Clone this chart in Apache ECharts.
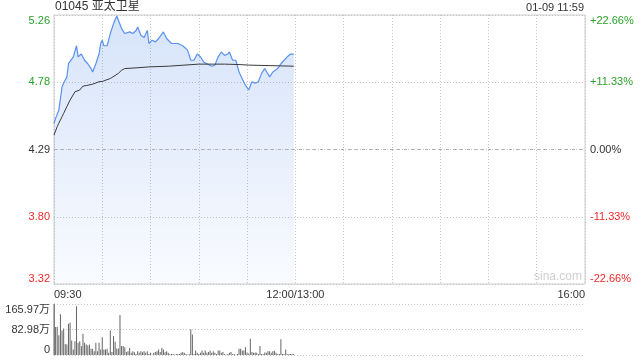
<!DOCTYPE html>
<html><head><meta charset="utf-8">
<script src="https://cdn.jsdelivr.net/npm/echarts@6/dist/echarts.min.js"></script>
<style>html,body{margin:0;padding:0;background:#fff}#c{width:640px;height:360px}</style>
</head><body><div id="c"></div>
<script>
const prevClose = 4.29;
const stepPct = 11.33;
const priceTimes = [0,1,3,5,6,8,9,10,12,14,15,17,19,21,23,24,26,28,29,30,31,33,35,37,39,40,42,44,47,49,51,52,54,56,58,59,61,63,65,68,70,73,77,80,83,85,87,89,91,93,95,98,100,102,104,106,108,109,111,113,115,117,119,121,123,125,127,129,131,134,136,139,141,143,145,147,149];
const prices = [4.479,4.515,4.575,4.743,4.77,4.815,4.91,4.90,4.96,5.04,4.96,4.98,4.935,4.91,4.875,4.85,4.91,4.98,5.056,5.08,5.04,5.04,5.128,5.20,5.255,5.224,5.164,5.128,5.14,5.128,5.15,5.176,5.116,5.10,5.15,5.056,5.08,5.068,5.092,5.14,5.092,5.056,5.056,5.04,5.008,4.935,4.935,4.98,4.96,4.923,4.91,4.892,4.90,4.96,4.995,4.97,4.98,4.995,4.935,4.935,4.85,4.80,4.755,4.72,4.78,4.77,4.78,4.84,4.875,4.815,4.85,4.875,4.91,4.935,4.96,4.98,4.98];
const avgTimes = [0,2,3,5,6,8,10,11,13,16,18,20,24,28,30,35,40,42,44,51,59,71,90,106,115,121,149];
const avgPrices = [4.395,4.455,4.48,4.527,4.551,4.60,4.647,4.66,4.707,4.72,4.748,4.752,4.762,4.78,4.782,4.803,4.84,4.863,4.875,4.88,4.887,4.892,4.907,4.907,4.904,4.90,4.892];
const volumes = [166,91,91,64,133,80,86,36,34,102,105,47,18,45,159,40,45,29,69,40,34,31,34,20,20,12,40,12,40,18,58,18,18,20,7,80,10,62,43,21,21,130,29,29,25,10,12,23,7,12,9,3,12,7,12,9,12,7,12,3,7,1,7,10,12,18,10,23,18,9,12,7,3,
3,3,1,3,3,3,7,10,7,3,1,3,84,67,3,15,7,3,7,15,7,15,7,10,15,7,12,7,3,15,15,7,10,3,1,3,7,10,3,3,1,3,
20,20,15,15,25,8,5,53,10,7,8,7,3,29,3,3,8,7,12,12,7,12,14,7,3,3,51,3,3,18,3,3,3,3,3];
const priceTickLabels = ['3.32','3.80','4.29','4.78','5.26'];
const pctTickLabels = ['-22.66%','-11.33%','0.00%','+11.33%','+22.66%'];
const volTickLabels = ['0','82.98万','165.97万'];
const timeTickLabels = {0:'09:30',150:'12:00/13:00',330:'16:00'};
const volMax = 165.97;

const FONT = '"Liberation Sans", Arial, "Noto Sans CJK SC", sans-serif';
const GREEN = '#2ba02b', RED = '#f02828', DARK = '#333';
function toStep(p){ return (p / prevClose - 1) * 100 / stepPct; }
function signColor(v){ v = Number(v); return v > 0 ? GREEN : (v < 0 ? RED : DARK); }
const dotted = {type:[1,2], color:'#c4c4c4', width:1};

const chart = echarts.init(document.getElementById('c'), null, {renderer:'canvas'});
chart.setOption({
  animation: false,
  textStyle: {fontFamily: FONT},
  title: [
    {text:'01045 亚太卫星', left:55, top:1, padding:0, textStyle:{fontSize:12, fontWeight:'normal', color:'#333', fontFamily:FONT}},
    {text:'01-09 11:59', right:56, top:2, padding:0, textStyle:{fontSize:11, fontWeight:'normal', color:'#333', fontFamily:FONT}}
  ],
  graphic: [{type:'text', left:534, top:271, silent:true, style:{text:'sina.com', fill:'#cfcfcf', font:'12px ' + FONT}}],
  grid: [
    {left:54, right:55, top:15, height:269, show:true, borderColor:'#cccccc', borderWidth:1, backgroundColor:'transparent'},
    {left:54, right:55, top:304, height:51}
  ],
  xAxis: [
    {type:'value', gridIndex:0, min:0, max:330, interval:30,
     axisLine:{show:false}, axisTick:{show:false},
     splitLine:{show:true, lineStyle:dotted},
     axisLabel:{formatter:v => timeTickLabels[v] || '', showMinLabel:true, showMaxLabel:true,
       alignMinLabel:'left', alignMaxLabel:'right', color:'#333', fontSize:11, margin:5, fontFamily:FONT}},
    {type:'value', gridIndex:1, min:0, max:330, show:false}
  ],
  yAxis: [
    {type:'value', gridIndex:0, min:-2, max:2, interval:1, position:'left',
     axisLine:{show:false}, axisTick:{show:false},
     splitLine:{show:true, lineStyle:dotted},
     axisLabel:{formatter:v => priceTickLabels[Math.round(v) + 2], color:v => signColor(v), fontSize:11, margin:4,
       fontFamily:FONT, verticalAlignMinLabel:'bottom', verticalAlignMaxLabel:'top'}},
    {type:'value', gridIndex:0, min:-2, max:2, interval:1, position:'right',
     axisLine:{show:false}, axisTick:{show:false}, splitLine:{show:false},
     axisLabel:{formatter:v => pctTickLabels[Math.round(v) + 2], color:v => signColor(v), fontSize:11, margin:5,
       fontFamily:FONT, verticalAlignMinLabel:'bottom', verticalAlignMaxLabel:'top'}},
    {type:'value', gridIndex:1, min:0, max:volMax, interval:volMax / 2, position:'left',
     axisLine:{show:true, lineStyle:{color:'#999', width:1}}, axisTick:{show:false},
     splitLine:{show:true, lineStyle:dotted},
     axisLabel:{formatter:(v, i) => volTickLabels[i], color:'#333', fontSize:11, margin:4,
       fontFamily:FONT, verticalAlignMinLabel:'bottom', verticalAlignMaxLabel:'top'}}
  ],
  series: [
    {type:'line', xAxisIndex:0, yAxisIndex:0, showSymbol:false, silent:true,
     data: priceTimes.map((t, i) => [t, toStep(prices[i])]),
     lineStyle:{color:'#5a92ee', width:1.2},
     areaStyle:{origin:'start', color:{type:'linear', x:0, y:0, x2:0, y2:1,
       colorStops:[{offset:0, color:'rgba(85,140,235,0.34)'}, {offset:1, color:'rgba(85,140,235,0.05)'}]}},
     markLine:{silent:true, symbol:'none', label:{show:false},
       lineStyle:{type:[3,4], color:'#b0b0b0', width:1}, data:[{yAxis:0}]}},
    {type:'line', xAxisIndex:0, yAxisIndex:0, showSymbol:false, silent:true,
     data: avgTimes.map((t, i) => [t, toStep(avgPrices[i])]),
     lineStyle:{color:'#3a3a3a', width:1}},
    {type:'bar', xAxisIndex:1, yAxisIndex:2, silent:true, barWidth:1,
     data: volumes.map((v, i) => [i, v]),
     itemStyle:{color:'#666'}}
  ]
});
</script>
</body></html>
